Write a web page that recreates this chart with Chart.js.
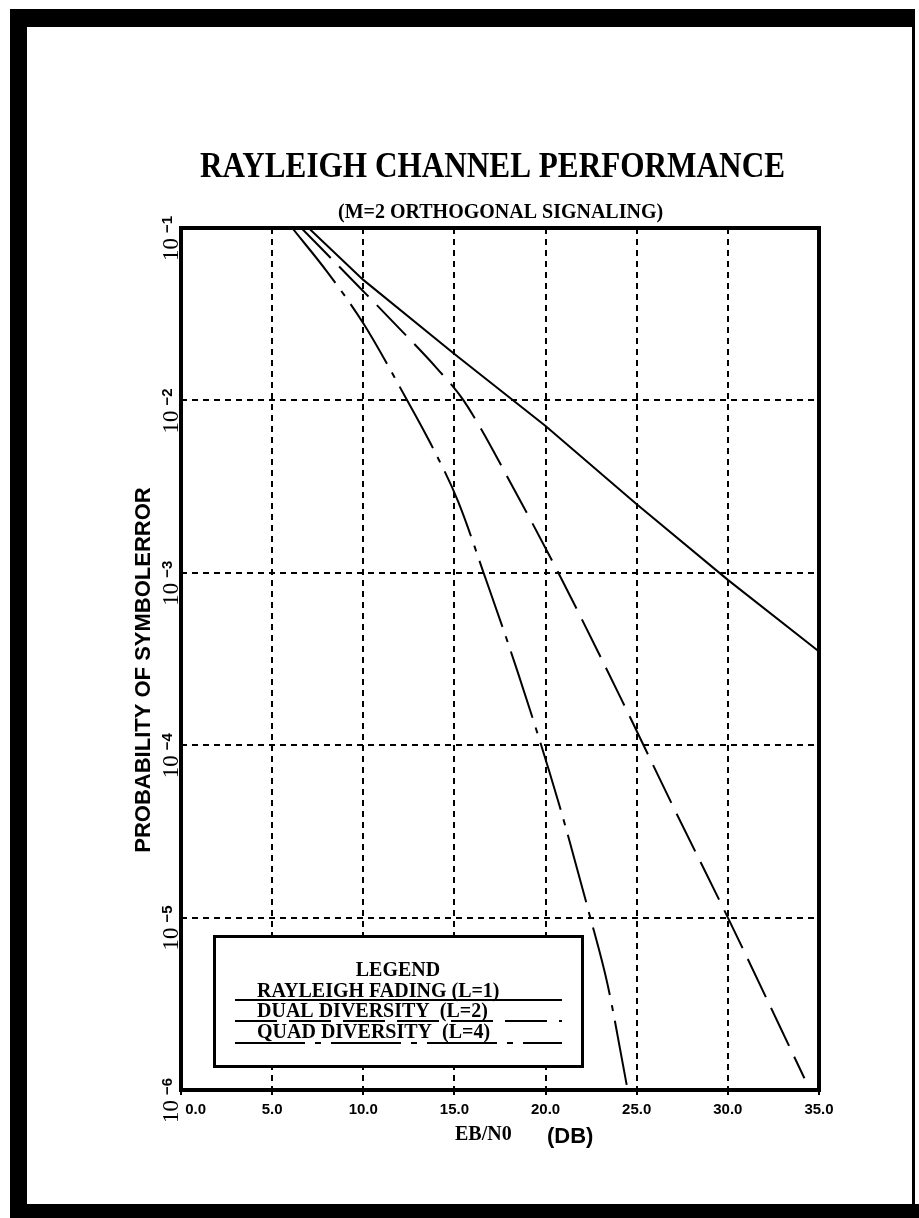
<!DOCTYPE html>
<html><head><meta charset="utf-8">
<script src="https://cdn.jsdelivr.net/npm/chart.js@4"></script>
<style>html,body{margin:0;padding:0;background:#fff}canvas{display:block}</style>
</head><body>
<canvas id="c" width="919" height="1218" style="width:919px;height:1218px"></canvas>
<script>
// ---- text ----
const TITLE = 'RAYLEIGH CHANNEL PERFORMANCE';
const SUBTITLE = '(M=2 ORTHOGONAL SIGNALING)';
const X_TITLE = 'EB/N0';
const X_UNIT = '(DB)';
const Y_TITLE = 'PROBABILITY OF SYMBOLERROR';
const LEGEND_TITLE = 'LEGEND';
const seriesNames = ['RAYLEIGH FADING (L=1)', 'DUAL DIVERSITY  (L=2)', 'QUAD DIVERSITY  (L=4)'];

// ---- ticks ----
const xTickValues = [0, 5, 10, 15, 20, 25, 30, 35];
const xTickLabels = ['0.0', '5.0', '10.0', '15.0', '20.0', '25.0', '30.0', '35.0'];
const yTickValues = [1e-6, 1e-5, 1e-4, 1e-3, 1e-2, 1e-1];
const yTickExponents = ['\u22126', '\u22125', '\u22124', '\u22123', '\u22122', '\u22121'];

// ---- data (Eb/N0 in dB, probability of symbol error) ----
const ebn0L1 = [7.0, 10, 15, 20, 25, 30, 35];
const pL1 = [1.0e-1, 5.0e-2, 1.86e-2, 7.1e-3, 2.5e-3, 9.1e-4, 3.5e-4];
const ebn0L2 = [6.6, 10, 12, 14, 15.5, 18.5, 20.7, 24.1, 27, 30, 34.2];
const pL2 = [1e-1, 4.3e-2, 2.6e-2, 1.55e-2, 1.0e-2, 2.75e-3, 1.0e-3, 1.9e-4, 4.4e-5, 1.0e-5, 1.17e-6];
const ebn0L4 = [6.1, 8, 10, 12.3, 13.7, 15.2, 16.6, 18.5, 20.7, 22.4, 23.4, 24.45];
const pL4 = [1e-1, 5.6e-2, 2.8e-2, 1.05e-2, 5.6e-3, 2.6e-3, 1.0e-3, 2.6e-4, 4.7e-5, 1.05e-5, 4.1e-6, 1.07e-6];

const dashL2 = [42, 12];
const dashL4 = [70, 10, 6, 10];

function pts(xs, ys) { return xs.map((x, i) => ({x: x, y: ys[i]})); }

const SERIF = '"Liberation Serif", "DejaVu Serif", serif';
const SANS = '"Liberation Sans", Arial, sans-serif';

const pageDeco = {
  id: 'pageDeco',
  beforeDraw(chart) {
    const ctx = chart.ctx;
    ctx.save();
    ctx.fillStyle = '#fff';
    ctx.fillRect(0, 0, chart.width, chart.height);
    ctx.fillStyle = '#000';
    ctx.fillRect(10, 9, 905, 18);
    ctx.fillRect(10, 9, 17, 1209);
    ctx.fillRect(912, 9, 3, 1200);
    ctx.fillRect(10, 1204, 909, 14);
    ctx.restore();
  },
  beforeDatasetsDraw(chart) {
    // legend box (covers grid)
    const ctx = chart.ctx;
    ctx.save();
    ctx.fillStyle = '#fff';
    ctx.fillRect(213, 935, 371, 133);
    ctx.strokeStyle = '#000';
    ctx.lineWidth = 3;
    ctx.strokeRect(214.5, 936.5, 368, 130);
    // legend samples
    const ds = chart.data.datasets;
    const ys = [1000, 1021, 1043];
    ds.forEach((d, i) => {
      ctx.beginPath();
      ctx.setLineDash(d.borderDash || []);
      ctx.lineWidth = 2;
      ctx.moveTo(235, ys[i]);
      ctx.lineTo(562, ys[i]);
      ctx.stroke();
    });
    ctx.setLineDash([]);
    ctx.fillStyle = '#000';
    ctx.textBaseline = 'alphabetic';
    ctx.font = 'bold 20px ' + SERIF;
    ctx.textAlign = 'center';
    ctx.fillText(LEGEND_TITLE, 398, 976, 90);
    ctx.textAlign = 'left';
    const base = [997, 1017, 1038];
    const widths = [261, 256, 256];
    seriesNames.forEach((n, i) => {
      ctx.fillText(n, 257, base[i], widths[i]);
    });
    ctx.restore();
  },
  afterDatasetsDraw(chart) {
    const ctx = chart.ctx;
    const a = chart.chartArea;
    ctx.save();
    ctx.strokeStyle = '#000';
    ctx.lineWidth = 4;
    ctx.strokeRect(a.left, a.top, a.right - a.left, a.bottom - a.top);
    ctx.restore();
  },
  afterDraw(chart) {
    const ctx = chart.ctx;
    ctx.save();
    ctx.fillStyle = '#000';
    ctx.textBaseline = 'alphabetic';
    // title
    ctx.textAlign = 'left';
    ctx.font = 'bold 36px ' + SERIF;
    ctx.fillText(TITLE, 200, 177, 585);
    ctx.font = 'bold 20px ' + SERIF;
    ctx.fillText(SUBTITLE, 338, 218, 348);
    // x title
    ctx.font = 'bold 20px ' + SERIF;
    ctx.fillText(X_TITLE, 455, 1140, 70);
    ctx.font = 'bold 22px ' + SANS;
    ctx.fillText(X_UNIT, 547, 1143, 60);
    // y title
    ctx.save();
    ctx.translate(150, 670);
    ctx.rotate(-Math.PI / 2);
    ctx.textAlign = 'center';
    ctx.font = 'bold 22px ' + SANS;
    ctx.fillText(Y_TITLE, 0, 0, 380);
    ctx.restore();
    // y tick labels (rotated 10^n)
    const ys = chart.scales.y;
    yTickValues.forEach((v, i) => {
      const p = ys.getPixelForValue(v);
      ctx.save();
      ctx.translate(178, p);
      ctx.rotate(-Math.PI / 2);
      ctx.textAlign = 'right';
      ctx.font = '23px ' + SERIF;
      ctx.fillText('10', -10, 0);
      ctx.textAlign = 'left';
      ctx.font = 'bold 15px ' + SANS;
      ctx.fillText(yTickExponents[i], -5, -6);
      ctx.restore();
    });
    ctx.restore();
  }
};

new Chart(document.getElementById('c'), {
  type: 'line',
  data: {
    datasets: [
      {label: seriesNames[0], data: pts(ebn0L1, pL1), borderColor: '#000', borderWidth: 2, pointRadius: 0, tension: 0, borderDash: []},
      {label: seriesNames[1], data: pts(ebn0L2, pL2), borderColor: '#000', borderWidth: 2, pointRadius: 0, cubicInterpolationMode: 'monotone', borderDash: dashL2},
      {label: seriesNames[2], data: pts(ebn0L4, pL4), borderColor: '#000', borderWidth: 2, pointRadius: 0, cubicInterpolationMode: 'monotone', borderDash: dashL4}
    ]
  },
  options: {
    responsive: false,
    animation: false,
    devicePixelRatio: 1,
    layout: {padding: {left: 181, right: 100, top: 228, bottom: 98}},
    plugins: {legend: {display: false}, title: {display: false}, tooltip: {enabled: false}},
    scales: {
      x: {
        type: 'linear', min: 0, max: 35,
        afterBuildTicks: s => { s.ticks = xTickValues.map(v => ({value: v})); },
        afterFit: s => { s.height = 30; },
        ticks: {
          color: '#000', autoSkip: false, maxRotation: 0, padding: 6,
          font: {family: SANS, weight: 'bold', size: 15},
          callback: (v, i) => (i === 0 ? '       ' : '') + xTickLabels[i]
        },
        grid: {color: '#000', lineWidth: 2, drawTicks: true, tickLength: 5, tickColor: '#000', tickWidth: 2},
        border: {display: false, dash: [6, 5]}
      },
      y: {
        type: 'logarithmic', min: 1e-6, max: 1e-1,
        afterBuildTicks: s => { s.ticks = yTickValues.map(v => ({value: v})); },
        afterFit: s => { s.width = 0; },
        ticks: {display: false},
        grid: {color: '#000', lineWidth: 2, drawTicks: false},
        border: {display: false, dash: [6, 5]}
      }
    }
  },
  plugins: [pageDeco]
});
</script>
</body></html>
